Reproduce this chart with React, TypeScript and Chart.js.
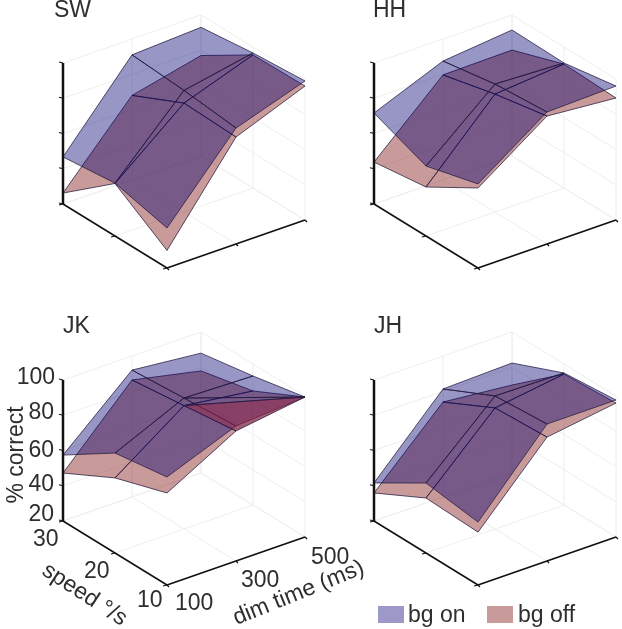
import React, { useEffect, useRef } from "react";
import { Chart, registerables } from "chart.js";

Chart.register(...registerables);

// % correct, rows: speed 10, 20, 30 %/s; columns: dim time 100, 300, 500 ms
const speeds = [10, 20, 30];
const dimTimes = [100, 300, 500];
const percentTicks = [20, 40, 60, 80, 100];

const swOn = [[42.7, 85.8, 98.9], [50, 89, 96.6], [46.7, 91, 93]];
const swOff = [[30, 80.7, 96], [49.8, 81.8, 95.5], [26.2, 68, 77]];
const hhOn = [[67.7, 94.9, 96], [59.7, 92.6, 90.9], [71.6, 87.5, 91.5]];
const hhOff = [[65.4, 92.6, 89.2], [47.8, 86.9, 90.3], [43.8, 79.6, 80.1]];
const jkOn = [[81.3, 96.6, 99.4], [76.7, 94.3, 93.2], [57.4, 92, 88]];
const jkOff = [[72.2, 93.8, 99.4], [62.6, 90, 84.7], [47.2, 86.4, 77.9]];
const jhOn = [[55.7, 97.7, 97.7], [59.7, 95.5, 94.9], [41.6, 81.3, 82.4]];
const jhOff = [[50, 90.3, 96], [51.2, 88.7, 94.3], [35.9, 73.9, 69.9]];

const panelNames = ["SW", "HH", "JK", "JH"];
const onSeries = [swOn, hhOn, jkOn, jhOn];
const offSeries = [swOff, hhOff, jkOff, jhOff];
const legendLabels = ["bg on", "bg off"];

const panelOffsets = [[0, 0], [311, 0], [0, 317], [311, 317]];
const ON_FILL = "rgba(4,0,114,0.41)";
const OFF_FILL = "rgba(147,53,53,0.5)";
const OFF_TOP_FILL = "rgba(130,30,65,0.72)";
const EDGE = "rgba(35,25,60,0.75)";
const GRID = "#eeeeee";
const INK = "#2e2e2e";
const FONT = "23px 'Liberation Sans', Arial, sans-serif";
// the one cell (panel, i, j) in which the reference shows bg off in front of bg on
const offInFront = [2, 0, 1];

type Pt = { x: number; y: number };
type Node = [number, number];

function project(panel: number, speed: number, dim: number, pct: number): Pt {
  const [dx, dy] = panelOffsets[panel];
  const u = (speed - 10) / 20;
  const v = (dim - 100) / 400;
  const w = (pct - 20) / 80;
  return {
    x: dx + 167 - 104 * u + 138 * v,
    y: dy + 268 - 64 * u - 48 * v - 141 * w,
  };
}

function lineSet(data: Pt[], color: string, width: number) {
  return { data, showLine: true, fill: false, borderColor: color, borderWidth: width, pointRadius: 0, tension: 0 };
}

function polySet(grid: number[][], panel: number, nodes: Node[], fill: string) {
  const closed = [...nodes, nodes[0]];
  const data = closed.map(([a, b]) => project(panel, speeds[a], dimTimes[b], grid[a][b]));
  return { data, showLine: true, fill: "shape", backgroundColor: fill, borderColor: EDGE, borderWidth: 1, pointRadius: 0, tension: 0 };
}

function buildPanel(panel: number) {
  const sets: any[] = [];
  const sLo = speeds[0], sHi = speeds[2], dLo = dimTimes[0], dHi = dimTimes[2];
  const zLo = percentTicks[0], zHi = percentTicks[4];
  const P = (s: number, d: number, z: number) => project(panel, s, d, z);

  // floor and wall grid
  speeds.forEach((s) => sets.push(lineSet([P(s, dLo, zLo), P(s, dHi, zLo)], GRID, 1)));
  dimTimes.forEach((d) => sets.push(lineSet([P(sLo, d, zLo), P(sHi, d, zLo)], GRID, 1)));
  percentTicks.forEach((z) => {
    sets.push(lineSet([P(sHi, dLo, z), P(sHi, dHi, z), P(sLo, dHi, z)], GRID, 1));
  });
  dimTimes.forEach((d) => sets.push(lineSet([P(sHi, d, zLo), P(sHi, d, zHi)], GRID, 1)));
  speeds.forEach((s) => sets.push(lineSet([P(s, dHi, zLo), P(s, dHi, zHi)], GRID, 1)));

  // surfaces: bg off, then bg on, then any bg off patch that lies in front
  const on = onSeries[panel];
  const off = offSeries[panel];
  const offBehind: any[] = [];
  const onSets: any[] = [];
  const offTop: any[] = [];
  const addPatch = (nodes: Node[], offOnTop: boolean) => {
    onSets.push(polySet(on, panel, nodes, ON_FILL));
    (offOnTop ? offTop : offBehind).push(polySet(off, panel, nodes, offOnTop ? OFF_TOP_FILL : OFF_FILL));
  };
  for (let i = 1; i >= 0; i--) {
    for (let j = 1; j >= 0; j--) {
      if (panel === offInFront[0] && i === offInFront[1] && j === offInFront[2]) {
        addPatch([[i + 1, j], [i, j + 1], [i + 1, j + 1]], false);
        addPatch([[i, j], [i, j + 1], [i + 1, j]], true);
      } else {
        addPatch([[i, j], [i, j + 1], [i + 1, j + 1], [i + 1, j]], false);
      }
    }
  }
  sets.push(...offBehind, ...onSets, ...offTop);

  // axes
  const ink = "#111111";
  sets.push(lineSet([P(sHi, dLo, zLo), P(sHi, dLo, zHi)], ink, 2.5));
  sets.push(lineSet([P(sHi, dLo, zLo), P(sLo, dLo, zLo)], ink, 1.6));
  sets.push(lineSet([P(sLo, dLo, zLo), P(sLo, dHi, zLo)], ink, 1.6));
  percentTicks.forEach((z) => {
    const a = P(sHi, dLo, z);
    sets.push(lineSet([a, { x: a.x - 4, y: a.y - 1 }], ink, 1.2));
  });
  speeds.forEach((s) => {
    const a = P(s, dLo, zLo);
    sets.push(lineSet([a, { x: a.x - 4, y: a.y + 1 }], ink, 1.2));
  });
  dimTimes.forEach((d) => {
    const a = P(sLo, d, zLo);
    sets.push(lineSet([a, { x: a.x + 2, y: a.y + 2 }], ink, 1.2));
  });
  return sets;
}

const textPlugin = {
  id: "panelText",
  afterDraw(chart: any) {
    const ctx = chart.ctx;
    const put = (s: string, x: number, y: number, rot = 0, align: CanvasTextAlign = "left") => {
      ctx.save();
      ctx.translate(x, y);
      ctx.rotate((rot * Math.PI) / 180);
      ctx.font = FONT;
      ctx.fillStyle = INK;
      ctx.textAlign = align;
      ctx.textBaseline = "alphabetic";
      ctx.fillText(s, 0, 0);
      ctx.restore();
    };
    put(panelNames[0], 54, 17);
    put(panelNames[1], 373, 17);
    put(panelNames[2], 63, 333);
    put(panelNames[3], 374, 333);
    const pctY = [521, 491, 457, 419, 384];
    const pctX = [54, 54, 54, 54, 55];
    percentTicks.forEach((t, k) => put(String(t), pctX[k], pctY[k], 0, "right"));
    put("% correct", 23, 455, -90, "center");
    put(String(speeds[2]), 33, 546);
    put(String(speeds[1]), 84, 578);
    put(String(speeds[0]), 137, 607);
    put(String(dimTimes[0]), 175, 610);
    put(String(dimTimes[1]), 241, 587);
    put(String(dimTimes[2]), 311, 564);
    put("speed °/s", 81, 600, 33, "center");
    put("dim time (ms)", 301, 599, -22, "center");
    ctx.fillStyle = "#9c98c8";
    ctx.fillRect(378, 606, 26, 17);
    ctx.fillStyle = "#c99a9a";
    ctx.fillRect(487, 606, 26, 17);
    put(legendLabels[0], 408, 622);
    put(legendLabels[1], 518, 622);
  },
};

export default function App() {
  const ref = useRef<HTMLCanvasElement>(null);
  useEffect(() => {
    if (!ref.current) return;
    const datasets = panelNames.flatMap((_, p) => buildPanel(p)).reverse();
    const chart = new Chart(ref.current, {
      type: "scatter",
      data: { datasets },
      plugins: [textPlugin],
      options: {
        animation: false,
        responsive: false,
        layout: { padding: 0 },
        plugins: { legend: { display: false }, title: { display: false }, tooltip: { enabled: false } },
        scales: {
          x: { type: "linear", min: 0, max: 622, display: false },
          y: { type: "linear", min: 0, max: 629, reverse: true, display: false },
        },
      },
    } as any);
    return () => chart.destroy();
  }, []);
  return (
    <canvas ref={ref} width={622} height={629} style={{ position: "absolute", left: 0, top: 0, width: 622, height: 629, display: "block" }} />
  );
}
